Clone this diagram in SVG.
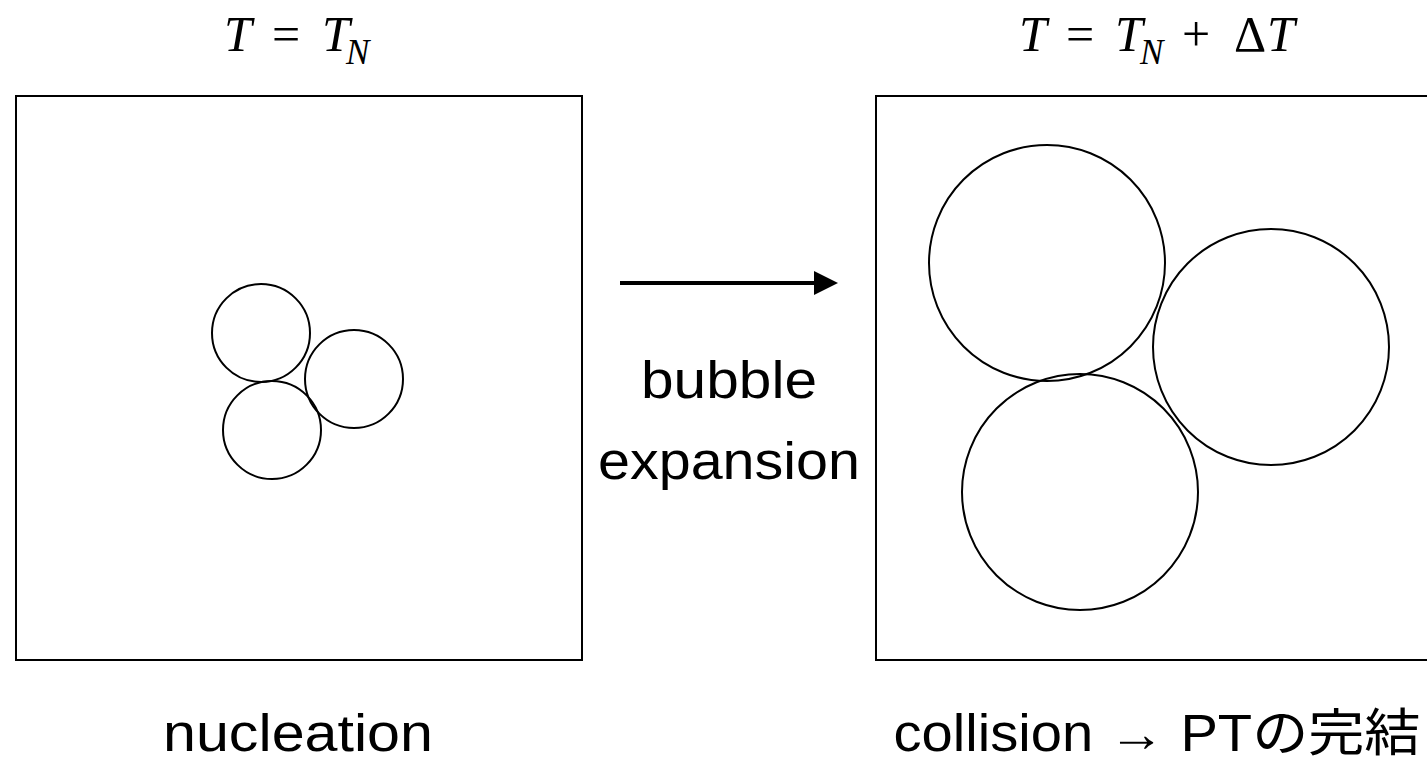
<svg xmlns="http://www.w3.org/2000/svg" width="1427" height="759" viewBox="0 0 1427 759">
<style>
.box{fill:#fff;stroke:#000;stroke-width:2}
.bub{fill:none;stroke:#000;stroke-width:2}
.math{font-family:"Liberation Serif","DejaVu Serif",serif;font-size:50px;fill:#000}
.it{font-style:italic}
.sub{font-style:italic;font-size:35px}
.lbl{font-family:"Liberation Sans","Noto Sans CJK JP",sans-serif;font-size:51px;fill:#000;text-anchor:middle}
</style>
<defs>
<marker id="ah" markerWidth="6" markerHeight="6" refX="0" refY="3" orient="auto" markerUnits="strokeWidth">
<path d="M0,0 L6,3 L0,6 Z" fill="#000"/>
</marker>
</defs>
<rect width="1427" height="759" fill="#fff"/>
<g id="before">
<rect class="box" x="16" y="96" width="566" height="564"/>
<circle class="bub" cx="261" cy="333" r="49"/>
<circle class="bub" cx="354" cy="379" r="49"/>
<circle class="bub" cx="272" cy="430" r="49"/>
<text class="math" y="51"><tspan class="it" x="224">T</tspan><tspan x="272">=</tspan><tspan class="it" x="322">T</tspan><tspan class="sub" x="346" y="64">N</tspan></text>
<text class="lbl" x="298" y="751" textLength="270" lengthAdjust="spacingAndGlyphs">nucleation</text>
</g>
<g id="after">
<rect class="box" x="876" y="96" width="566" height="564"/>
<circle class="bub" cx="1047" cy="263" r="118"/>
<circle class="bub" cx="1271" cy="347" r="118"/>
<circle class="bub" cx="1080" cy="492" r="118"/>
<text class="math" y="51"><tspan class="it" x="1019">T</tspan><tspan x="1066">=</tspan><tspan class="it" x="1115">T</tspan><tspan class="sub" x="1140" y="64">N</tspan><tspan x="1182" y="51">+</tspan><tspan x="1234">Δ</tspan><tspan class="it" x="1267">T</tspan></text>
<text class="lbl" x="1157" y="751" textLength="527" lengthAdjust="spacingAndGlyphs">collision → PTの完結</text>
</g>
<g id="connectors">
<line x1="620" y1="283" x2="814" y2="283" stroke="#000" stroke-width="4" marker-end="url(#ah)"/>
<text class="lbl" x="729" y="398" textLength="176" lengthAdjust="spacingAndGlyphs">bubble</text>
<text class="lbl" x="729" y="479" textLength="262" lengthAdjust="spacingAndGlyphs">expansion</text>
</g>
</svg>
